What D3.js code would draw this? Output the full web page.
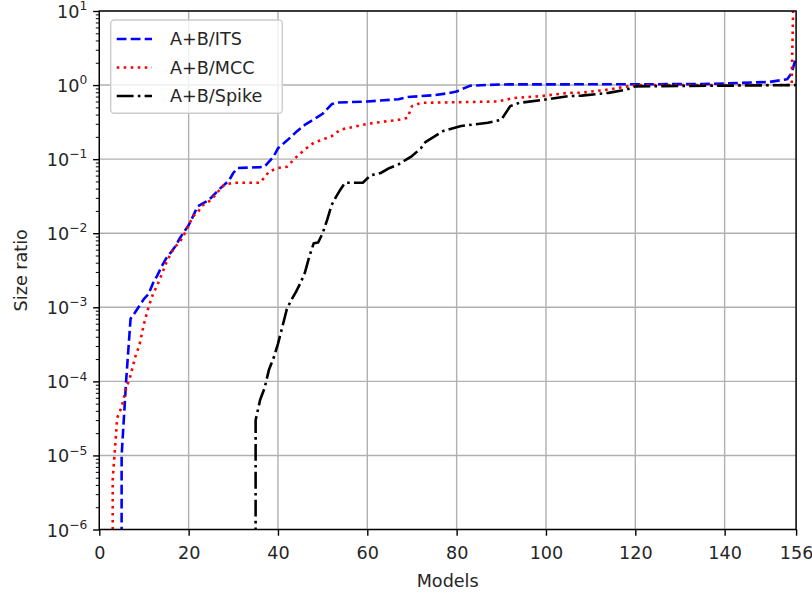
<!DOCTYPE html>
<html>
<head>
<meta charset="utf-8">
<script src="https://cdn.jsdelivr.net/npm/d3@7"></script>
<style>
  body { margin: 0; background: #fff; }
  svg { display: block; font-family: "DejaVu Sans", sans-serif; }
</style>
</head>
<body>
<svg></svg>
<script>
// values (0 = below the log axis)
let itsModels = [4, 5, 6, 7, 8, 9, 10, 11, 12, 13, 14, 15, 16, 17, 18, 19, 20, 21, 22, 24, 25, 27, 29, 30, 31, 36, 37, 39, 40, 42, 44, 46, 49, 50, 52, 53, 60, 67, 69, 75, 78, 80, 82, 83, 90, 135, 150, 154, 155, 156];
let itsRatio = [0, 1e-5, 1e-4, 7e-4, 8.5e-4, 1.05e-3, 1.3e-3, 1.5e-3, 2.1e-3, 2.7e-3, 3.6e-3, 4.6e-3, 5.5e-3, 6.6e-3, 8.5e-3, 1.05e-2, 1.28e-2, 1.7e-2, 2.3e-2, 2.7e-2, 3.0e-2, 4.0e-2, 5.1e-2, 6.5e-2, 7.6e-2, 7.8e-2, 7.9e-2, 0.108, 0.14, 0.178, 0.23, 0.29, 0.375, 0.41, 0.55, 0.58, 0.6, 0.645, 0.69, 0.73, 0.775, 0.82, 0.925, 0.98, 1.02, 1.03, 1.1, 1.2, 1.45, 2.4];

let mccModels = [2, 3, 4, 5, 6, 7, 8, 9, 10, 11, 12, 13, 14, 15, 16, 17, 18, 19, 20, 21, 22, 23, 25, 26, 27, 28, 30, 36, 38, 40, 42, 44, 46, 48, 52, 54, 60, 67, 69, 70, 72, 89, 93, 99, 105, 108, 114, 120, 155, 156];
let mccRatio = [0, 4.7e-6, 3.2e-5, 4.5e-5, 8e-5, 1.2e-4, 2.1e-4, 3.1e-4, 6e-4, 1.0e-3, 1.5e-3, 2.0e-3, 2.8e-3, 4.0e-3, 5.3e-3, 6.6e-3, 7.6e-3, 9.6e-3, 1.27e-2, 1.7e-2, 1.9e-2, 2.35e-2, 2.8e-2, 3.3e-2, 3.9e-2, 4.5e-2, 4.8e-2, 4.8e-2, 6.8e-2, 7.6e-2, 7.9e-2, 0.105, 0.135, 0.166, 0.204, 0.25, 0.3, 0.34, 0.36, 0.52, 0.575, 0.6, 0.67, 0.71, 0.785, 0.79, 0.87, 1.0, 1.0, 1000];

let spikeModels = [34, 35, 36, 37, 38, 39, 40, 41, 42, 43, 44, 45, 46, 47, 48, 49, 50, 51, 52, 53, 54, 55, 59, 60, 61, 63, 65, 67, 70, 72, 73, 77, 81, 87, 90, 92, 94, 100, 105, 108, 114, 118, 120, 156];
let spikeRatio = [0, 3e-5, 5.6e-5, 8.1e-5, 1.45e-4, 2.05e-4, 3.2e-4, 5.5e-4, 9.5e-4, 1.26e-3, 1.6e-3, 2.1e-3, 2.9e-3, 4.8e-3, 7.3e-3, 7.5e-3, 1.0e-2, 1.5e-2, 2.4e-2, 3.1e-2, 3.9e-2, 4.8e-2, 4.8e-2, 5.5e-2, 6.1e-2, 6.5e-2, 7.6e-2, 8.5e-2, 0.11, 0.14, 0.17, 0.24, 0.28, 0.31, 0.34, 0.52, 0.575, 0.64, 0.71, 0.72, 0.785, 0.87, 0.96, 1.0];

let seriesNames = ["A+B/ITS", "A+B/MCC", "A+B/Spike"];
let xTicks = [0, 20, 40, 60, 80, 100, 120, 140, 156];
let yTicks = [1e-6, 1e-5, 1e-4, 1e-3, 1e-2, 1e-1, 1, 10];
let yExponents = ["\u22126", "\u22125", "\u22124", "\u22123", "\u22122", "\u22121", "0", "1"];

let width = 812;
let height = 593;
let plotLeft = 99.3;
let plotRight = 796.1;
let plotTop = 11;
let plotBottom = 529.5;
let fontSize = 17.6;

let xScale;
let yScale;

let svg = d3.select("svg");

function drawCanvas() {
  svg.attr("width", width).attr("height", height);
  svg.append("defs")
    .append("clipPath")
    .attr("id", "plot-clip")
    .append("rect")
    .attr("x", plotLeft)
    .attr("y", plotTop)
    .attr("width", plotRight - plotLeft)
    .attr("height", plotBottom - plotTop);
}

function generateScales() {
  xScale = d3.scaleLinear().domain([0, 156]).range([plotLeft, plotRight]);
  yScale = d3.scaleLog().domain([1e-6, 10]).range([plotBottom, plotTop]);
}

function drawGrid() {
  let grid = svg.append("g").attr("class", "grid");
  grid.selectAll(".vgrid")
    .data(xTicks)
    .enter()
    .append("line")
    .attr("x1", (d) => xScale(d))
    .attr("x2", (d) => xScale(d))
    .attr("y1", plotTop)
    .attr("y2", plotBottom);
  grid.selectAll(".hgrid")
    .data(yTicks)
    .enter()
    .append("line")
    .attr("x1", plotLeft)
    .attr("x2", plotRight)
    .attr("y1", (d) => yScale(d))
    .attr("y2", (d) => yScale(d));
  grid.selectAll("line").attr("stroke", "#b0b0b0").attr("stroke-width", 1.4);
}

function drawLines() {
  let series = [
    { models: itsModels, ratio: itsRatio, color: "#0000ff", dash: "9.8,4.2" },
    { models: mccModels, ratio: mccRatio, color: "#ff0000", dash: "2.6,4.4" },
    { models: spikeModels, ratio: spikeRatio, color: "#000000", dash: "16.9,4.2,2.6,4.2" }
  ];

  // zeros sit far below the axis, like matplotlib's clipped log values
  let line = d3.line()
    .x((d) => xScale(d[0]))
    .y((d) => (d[1] > 0 ? yScale(d[1]) : yScale(1e-300)));

  let g = svg.append("g").attr("clip-path", "url(#plot-clip)");
  series.forEach((s) => {
    let pts = s.models.map((m, i) => [m, s.ratio[i]]);
    g.append("path")
      .attr("d", line(pts))
      .attr("fill", "none")
      .attr("stroke", s.color)
      .attr("stroke-width", 2.6)
      .attr("stroke-dasharray", s.dash)
      .attr("stroke-linejoin", "round");
  });

  // legend
  let legend = svg.append("g").attr("class", "legend");
  legend.append("rect")
    .attr("x", 110.7)
    .attr("y", 20)
    .attr("width", 171.6)
    .attr("height", 93.3)
    .attr("rx", 3.5)
    .attr("fill", "#fff")
    .attr("fill-opacity", 0.8)
    .attr("stroke", "#cccccc")
    .attr("stroke-width", 1.4);
  seriesNames.forEach((name, i) => {
    let cy = 39 + i * 28.5;
    legend.append("line")
      .attr("x1", 116.7)
      .attr("x2", 152)
      .attr("y1", cy)
      .attr("y2", cy)
      .attr("stroke", series[i].color)
      .attr("stroke-width", 2.6)
      .attr("stroke-dasharray", series[i].dash);
    legend.append("text")
      .attr("x", 170)
      .attr("y", cy + 6.4)
      .attr("font-size", fontSize)
      .attr("fill", "#262626")
      .text(name);
  });
}

function generateAxes() {
  // frame
  svg.append("rect")
    .attr("x", plotLeft)
    .attr("y", plotTop)
    .attr("width", plotRight - plotLeft)
    .attr("height", plotBottom - plotTop)
    .attr("fill", "none")
    .attr("stroke", "#000")
    .attr("stroke-width", 1.4);

  let xAxis = d3.axisBottom(xScale).tickValues(xTicks).tickSize(6.2).tickFormat(d3.format("d"));
  let xg = svg.append("g")
    .attr("id", "x-axis")
    .attr("transform", `translate(0, ${plotBottom})`)
    .call(xAxis);
  xg.select(".domain").remove();
  xg.selectAll(".tick line").attr("stroke-width", 1.4);
  xg.selectAll(".tick text")
    .attr("y", 29.5)
    .attr("dy", null)
    .attr("font-size", fontSize)
    .attr("font-family", "DejaVu Sans")
    .attr("fill", "#262626");

  let minor = [];
  for (let e = -6; e < 1; e++) {
    for (let k = 2; k <= 9; k++) minor.push(k * Math.pow(10, e));
  }
  let yMinor = d3.axisLeft(yScale).tickValues(minor).tickSize(3.5).tickFormat("");
  let ym = svg.append("g").attr("transform", `translate(${plotLeft}, 0)`).call(yMinor);
  ym.select(".domain").remove();
  ym.selectAll(".tick line").attr("stroke-width", 1);

  let yAxis = d3.axisLeft(yScale).tickValues(yTicks).tickSize(6.2).tickFormat("");
  let yg = svg.append("g")
    .attr("id", "y-axis")
    .attr("transform", `translate(${plotLeft}, 0)`)
    .call(yAxis);
  yg.select(".domain").remove();
  yg.selectAll(".tick line").attr("stroke-width", 1.4);
  yg.selectAll(".tick text").remove();
  yg.selectAll(".tick").each(function (d, i) {
    let t = d3.select(this)
      .append("text")
      .attr("x", -12)
      .attr("y", 6.5)
      .attr("text-anchor", "end")
      .attr("font-size", fontSize)
      .attr("font-family", "DejaVu Sans")
      .attr("fill", "#262626");
    t.append("tspan").text("10");
    t.append("tspan").attr("font-size", 12.3).attr("dy", -7.8).text(yExponents[i]);
  });

  svg.append("text")
    .attr("id", "x-axis-label")
    .attr("x", (plotLeft + plotRight) / 2)
    .attr("y", 587)
    .attr("text-anchor", "middle")
    .attr("font-size", fontSize)
    .attr("fill", "#262626")
    .text("Models");

  svg.append("text")
    .attr("id", "y-axis-label")
    .attr("transform", `translate(27, ${(plotTop + plotBottom) / 2}) rotate(-90)`)
    .attr("text-anchor", "middle")
    .attr("font-size", fontSize)
    .attr("fill", "#262626")
    .text("Size ratio");
}

drawCanvas();
generateScales();
drawGrid();
drawLines();
generateAxes();
</script>
</body>
</html>
